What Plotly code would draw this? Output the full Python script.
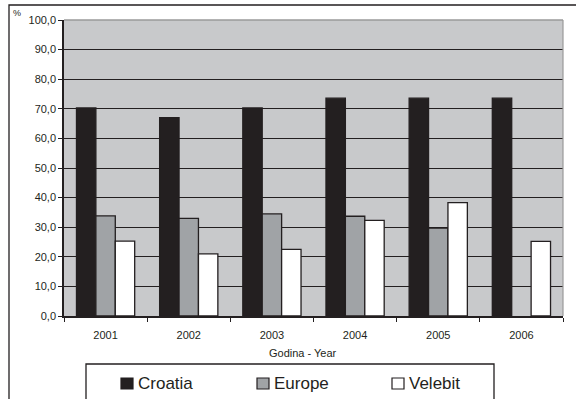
import plotly.graph_objects as go

years = ["2001", "2002", "2003", "2004", "2005", "2006"]
croatia = [70.3, 67.0, 70.3, 73.6, 73.6, 73.6]
europe = [33.8, 33.0, 34.5, 33.7, 29.7, None]
velebit = [25.3, 21.0, 22.5, 32.3, 38.3, 25.2]
series_names = ["Croatia", "Europe", "Velebit"]
series_colors = ["#231f20", "#a0a3a6", "#ffffff"]
y_ticks = [0, 10, 20, 30, 40, 50, 60, 70, 80, 90, 100]

W, H = 576, 399
L, R, T, B = 64, 563, 20, 316  # plot area in pixels
DARK = "#231f20"
FONT = "Liberation Sans, Arial, sans-serif"


def px(x):
    return (x - L) / (R - L)


def py(y):
    return (B - y) / (B - T)


fig = go.Figure()
for name, vals, col in zip(series_names, [croatia, europe, velebit], series_colors):
    fig.add_trace(go.Bar(
        x=years, y=vals, name=name,
        marker=dict(color=col, line=dict(color=DARK, width=1.3)),
        showlegend=False,
    ))

shapes = []
# outer frame
shapes.append(dict(type="rect", xref="paper", yref="paper",
                   x0=px(9), x1=px(590), y0=py(5), y1=py(420),
                   line=dict(color=DARK, width=1.3), fillcolor="rgba(0,0,0,0)", layer="below"))
# plot area top/right light border
shapes.append(dict(type="line", xref="paper", yref="paper", x0=0, x1=1, y0=1, y1=1,
                   line=dict(color="#9a9a9a", width=1.4), layer="above"))
shapes.append(dict(type="line", xref="paper", yref="paper", x0=1, x1=1, y0=0, y1=1,
                   line=dict(color="#9a9a9a", width=1.2), layer="above"))
# legend box
shapes.append(dict(type="rect", xref="paper", yref="paper",
                   x0=px(86), x1=px(494), y0=py(364), y1=py(420),
                   line=dict(color=DARK, width=1.3), fillcolor="white"))

annotations = []
leg_sq_x = [121, 257, 392]
for i, (name, col) in enumerate(zip(series_names, series_colors)):
    x0 = leg_sq_x[i]
    shapes.append(dict(type="rect", xref="paper", yref="paper",
                       x0=px(x0), x1=px(x0 + 12), y0=py(389), y1=py(378),
                       line=dict(color=DARK, width=1.2), fillcolor=col))
    annotations.append(dict(xref="paper", yref="paper", x=px(x0 + 15), y=py(383),
                            text=name, showarrow=False, xanchor="left", yanchor="middle",
                            font=dict(size=17, color=DARK, family=FONT)))

annotations.append(dict(xref="paper", yref="paper", x=px(303), y=py(353),
                        text="Godina - Year", showarrow=False, xanchor="center", yanchor="middle",
                        font=dict(size=11, color=DARK, family=FONT)))
annotations.append(dict(xref="paper", yref="paper", x=px(17), y=py(13),
                        text="%", showarrow=False, xanchor="center", yanchor="middle",
                        font=dict(size=9, color=DARK, family=FONT)))

fig.update_layout(
    width=W, height=H,
    margin=dict(l=L, r=W - R, t=T, b=H - B),
    paper_bgcolor="white",
    plot_bgcolor="#c8c9cb",
    barmode="group",
    bargap=0.3,
    bargroupgap=0,
    separators=",.",
    font=dict(family=FONT, size=11, color=DARK),
    shapes=shapes,
    annotations=annotations,
    showlegend=False,
    xaxis=dict(
        type="category", tickson="boundaries", ticks="outside", ticklen=4,
        tickwidth=1.2, tickcolor=DARK, showline=True, linecolor=DARK, linewidth=1.5,
        showgrid=False, tickfont=dict(size=11, color=DARK, family=FONT),
        ticklabelstandoff=8, fixedrange=True,
    ),
    yaxis=dict(
        range=[0, 100], tickvals=y_ticks, tickformat=".1f", ticks="outside", ticklen=4,
        tickwidth=1.2, tickcolor=DARK, showline=True, linecolor=DARK, linewidth=1.5,
        showgrid=True, gridcolor=DARK, gridwidth=1.3, zeroline=False,
        tickfont=dict(size=11, color=DARK, family=FONT), fixedrange=True,
    ),
)

fig.write_html("out.html")
